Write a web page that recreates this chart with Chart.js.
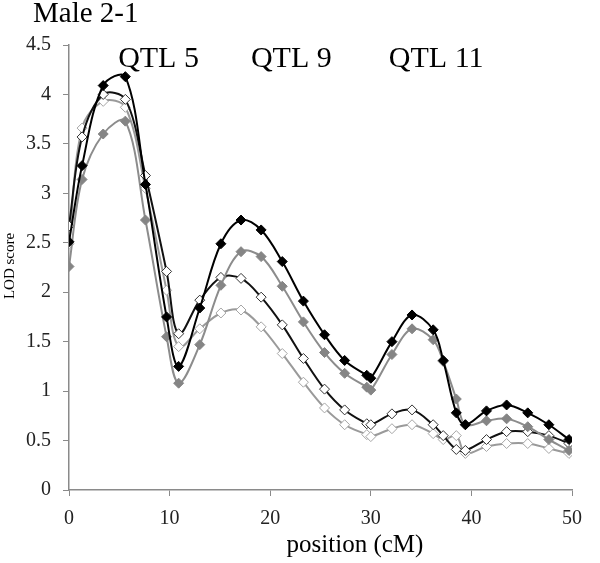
<!DOCTYPE html>
<html>
<head>
<meta charset="utf-8">
<script src="https://cdn.jsdelivr.net/npm/chart.js@4"></script>
<style>
  html, body { margin: 0; padding: 0; background: #fff; }
  #wrap { width: 600px; height: 563px; position: relative; }
</style>
</head>
<body>
<div id="wrap"><canvas id="lod"></canvas></div>
<script>
// marker positions along the linkage group (cM)
const positions = [0, 1.3, 3.4, 5.6, 7.6, 9.7, 10.9, 13.0, 15.1, 17.1, 19.1, 21.2, 23.3, 25.4,
  27.4, 29.6, 30.0, 32.1, 34.1, 36.2, 37.2, 38.5, 39.4, 41.5, 43.5, 45.6, 47.7, 49.7];

// LOD scores per series
const blackFilled = [2.51, 3.28, 4.09, 4.18, 3.09, 1.75, 1.25, 1.84, 2.49, 2.73, 2.63, 2.31, 1.91, 1.57,
  1.31, 1.16, 1.13, 1.50, 1.77, 1.62, 1.31, 0.78, 0.66, 0.80, 0.86, 0.78, 0.66, 0.51];
const greyFilled = [2.26, 3.14, 3.60, 3.73, 2.73, 1.55, 1.08, 1.47, 2.07, 2.41, 2.36, 2.06, 1.70, 1.39,
  1.18, 1.04, 1.01, 1.37, 1.63, 1.52, 1.30, 0.92, 0.66, 0.70, 0.72, 0.64, 0.51, 0.40];
const openBlack = [2.67, 3.57, 4.00, 3.95, 3.18, 2.21, 1.58, 1.92, 2.15, 2.14, 1.95, 1.67, 1.33, 1.02,
  0.81, 0.67, 0.66, 0.77, 0.81, 0.66, 0.55, 0.41, 0.40, 0.51, 0.59, 0.59, 0.55, 0.47];
const openGrey = [2.49, 3.66, 3.93, 3.87, 3.05, 2.02, 1.45, 1.63, 1.79, 1.82, 1.65, 1.38, 1.09, 0.83,
  0.66, 0.56, 0.54, 0.62, 0.66, 0.57, 0.51, 0.55, 0.37, 0.44, 0.47, 0.47, 0.42, 0.37];

const yTicks = [0, 0.5, 1, 1.5, 2, 2.5, 3, 3.5, 4, 4.5];
const xTicks = [0, 10, 20, 30, 40, 50];

// QTL labels: text and the position they sit over
const qtlNames = ['QTL 5', 'QTL 9', 'QTL 11'];
const qtlAt = [8.9, 22.1, 36.5];

const serif = '"Liberation Serif", "Times New Roman", serif';
const axisGrey = '#8a8a8a';

const toPoints = (ys) => ys.map((y, i) => ({ x: positions[i], y }));

const series = (label, ys, line, fill, edge) => ({
  label,
  data: toPoints(ys),
  borderColor: line,
  borderWidth: 2,
  tension: 0.35,
  pointStyle: 'rectRot',
  pointRadius: 5,
  pointBackgroundColor: fill,
  pointBorderColor: edge,
  pointBorderWidth: 1,
});

const textLayer = {
  id: 'textLayer',
  afterDraw(chart) {
    const { ctx, scales } = chart;
    ctx.save();
    ctx.fillStyle = '#000';
    ctx.textBaseline = 'alphabetic';

    ctx.font = `29px ${serif}`;
    ctx.textAlign = 'left';
    ctx.fillText('Male 2-1', 33, 22);

    ctx.font = `30px ${serif}`;
    ctx.textAlign = 'center';
    qtlNames.forEach((name, i) => {
      ctx.fillText(name, scales.x.getPixelForValue(qtlAt[i]), 67);
    });

    ctx.font = `25px ${serif}`;
    ctx.fillText('position (cM)', 355, 552);

    ctx.font = `15px ${serif}`;
    ctx.translate(14, 266);
    ctx.rotate(-Math.PI / 2);
    ctx.fillText('LOD score', 0, 0);
    ctx.restore();
  },
};

new Chart(document.getElementById('lod'), {
  type: 'line',
  data: {
    datasets: [
      series('black filled', blackFilled, '#000', '#000', '#000'),
      series('grey filled', greyFilled, '#8c8c8c', '#858585', '#858585'),
      series('black open', openBlack, '#111', '#fff', '#333'),
      series('grey open', openGrey, '#9a9a9a', '#fff', '#a5a5a5'),
    ],
  },
  options: {
    responsive: true,
    maintainAspectRatio: false,
    animation: false,
    layout: { padding: { top: 45, right: 28, left: 0, bottom: 0 } },
    plugins: { legend: { display: false }, tooltip: { enabled: false } },
    scales: {
      x: {
        type: 'linear',
        min: 0,
        max: 50,
        afterFit: (s) => { s.height = 73; },
        afterBuildTicks: (s) => { s.ticks = xTicks.map((v) => ({ value: v })); },
        ticks: { font: { family: serif, size: 20 }, color: '#222', padding: 11 },
        grid: { drawOnChartArea: false, tickLength: 6, color: axisGrey },
        border: { color: axisGrey, width: 1.5 },
      },
      y: {
        min: 0,
        max: 4.5,
        afterFit: (s) => { s.width = 69; },
        afterBuildTicks: (s) => { s.ticks = yTicks.map((v) => ({ value: v })); },
        ticks: { font: { family: serif, size: 20 }, color: '#222', padding: 12, callback: (v) => String(v) },
        grid: { drawOnChartArea: false, tickLength: 6, color: axisGrey },
        border: { color: axisGrey, width: 1.5 },
      },
    },
  },
  plugins: [textLayer],
});
</script>
</body>
</html>
